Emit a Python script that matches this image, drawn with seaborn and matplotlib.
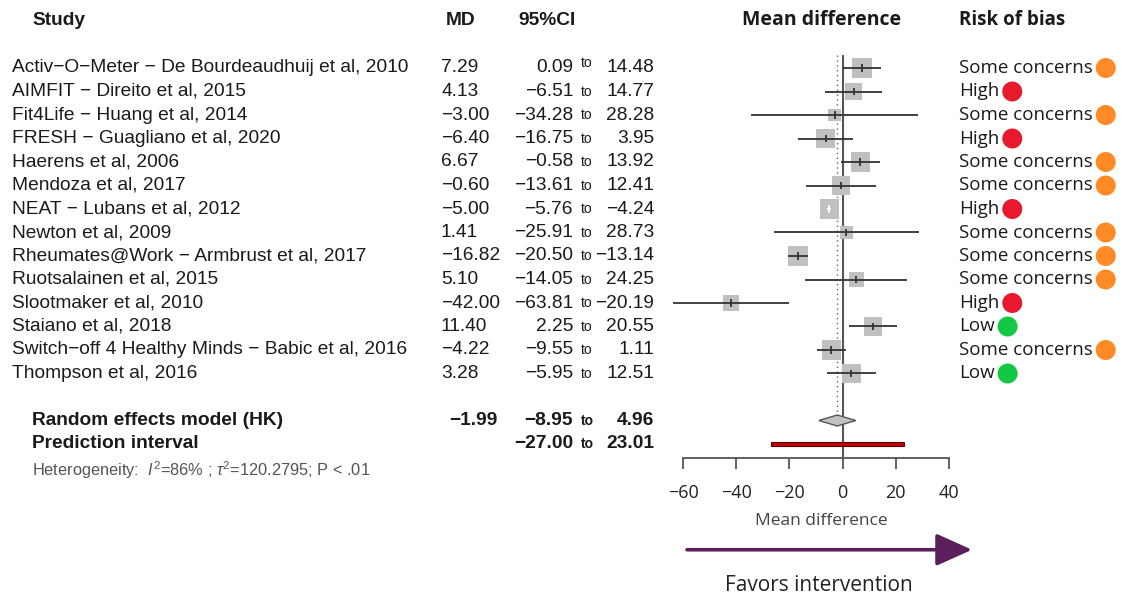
import numpy as np
import pandas as pd
import matplotlib
matplotlib.use("Agg")
import matplotlib.pyplot as plt
import matplotlib.transforms as mtransforms
import seaborn as sns

# ---------------- data ----------------
studies = [
    "Activ−O−Meter − De Bourdeaudhuij et al, 2010",
    "AIMFIT − Direito et al, 2015",
    "Fit4Life − Huang et al, 2014",
    "FRESH − Guagliano et al, 2020",
    "Haerens et al, 2006",
    "Mendoza et al, 2017",
    "NEAT − Lubans et al, 2012",
    "Newton et al, 2009",
    "Rheumates@Work − Armbrust et al, 2017",
    "Ruotsalainen et al, 2015",
    "Slootmaker et al, 2010",
    "Staiano et al, 2018",
    "Switch−off 4 Healthy Minds − Babic et al, 2016",
    "Thompson et al, 2016",
]
md = [7.29, 4.13, -3.00, -6.40, 6.67, -0.60, -5.00, 1.41, -16.82, 5.10, -42.00, 11.40, -4.22, 3.28]
ci_low = [0.09, -6.51, -34.28, -16.75, -0.58, -13.61, -5.76, -25.91, -20.50, -14.05, -63.81, 2.25, -9.55, -5.95]
ci_high = [14.48, 14.77, 28.28, 3.95, 13.92, 12.41, -4.24, 28.73, -13.14, 24.25, -20.19, 20.55, 1.11, 12.51]
weights = [8.4, 7.2, 3.5, 7.8, 8.4, 7.5, 8.4, 3.9, 9.6, 5.4, 5.4, 7.8, 8.9, 8.0]
risk = ["Some concerns", "High", "Some concerns", "High", "Some concerns", "Some concerns", "High",
        "Some concerns", "Some concerns", "Some concerns", "High", "Low", "Some concerns", "Low"]
re_md, re_low, re_high = -1.99, -8.95, 4.96
pi_low, pi_high = -27.00, 23.01
x_ticks = [-60, -40, -20, 0, 20, 40]
heterogeneity = r"Heterogeneity:  $I^2$=86% ; $\tau^2$=120.2795; P < .01"
risk_colors = {"Some concerns": "#ff8a26", "High": "#e8192c", "Low": "#12c844"}

# ---------------- style ----------------
sns.set_theme(style="white")
plt.rcParams["font.family"] = ["Liberation Sans", "DejaVu Sans"]
plt.rcParams["mathtext.fontset"] = "custom"
plt.rcParams["mathtext.rm"] = "Liberation Sans"
plt.rcParams["mathtext.it"] = "Liberation Sans:italic"
plt.rcParams["mathtext.bf"] = "Liberation Sans:bold"
OPEN = ["Open Sans", "DejaVu Sans"]

W, H = 1124, 600
fig = plt.figure(figsize=(W / 100, H / 100), dpi=100)
fig.patch.set_facecolor("white")
ax = fig.add_axes([0, 0, 1, 1])
ax.set_facecolor("none")
PX = 2.66          # pixels per MD unit
ROW = 23.5         # pixels per row
X0 = -60 - 683 / PX
ax.set_xlim(X0, X0 + W / PX)
ax.set_ylim((H - 68) / ROW, -68 / ROW)

def fx(px):
    return px / W

bt = mtransforms.blended_transform_factory(ax.transAxes, ax.transData)

n = len(studies)
rows = np.arange(n)
df = pd.DataFrame({"study": studies, "md": md, "lo": ci_low, "hi": ci_high,
                   "w": weights, "risk": risk, "row": rows})

# ---------------- forest ----------------
ax.vlines(0, -0.55, 16.6, color="#555555", lw=1.5, zorder=1)
ax.vlines(re_md, -0.55, 14.75, color="#666666", lw=1.0, linestyles=(0, (1, 2.5)), zorder=1)

wmax = max(weights)
sns.scatterplot(data=df, x="md", y="row", size="w", sizes=(0, 22.5 * wmax), size_norm=(0, wmax),
                marker="s", color="#c0c0c0", edgecolor="none", linewidth=0, legend=False,
                ax=ax, zorder=2)

side_px = 6.46 * np.sqrt(np.array(weights))
width_px = (np.array(ci_high) - np.array(ci_low)) * PX
line_cols = ["white" if wp < 0.9 * sp else "#333333" for wp, sp in zip(width_px, side_px)]
ax.hlines(rows, ci_low, ci_high, colors=line_cols, lw=1.3, zorder=3)
ax.scatter(md, rows, marker="|", s=30, c=line_cols, linewidths=1.3, zorder=4)

# summary diamond
dh = 5.5 / ROW
ax.fill([re_low, re_md, re_high, re_md], [15, 15 - dh, 15, 15 + dh],
        facecolor="#c2c2c2", edgecolor="#555555", lw=1.0, zorder=3)
# prediction interval
ax.barh(16, pi_high - pi_low, left=pi_low, height=4.5 / ROW, color="#c00000",
        edgecolor="#5a0000", lw=0.8, zorder=3)

# x axis
for s in ["top", "right", "left"]:
    ax.spines[s].set_visible(False)
ax.spines["bottom"].set_position(("data", 16.6))
ax.spines["bottom"].set_bounds(-60, 40)
ax.spines["bottom"].set_color("#555555")
ax.spines["bottom"].set_linewidth(1.3)
ax.set_xticks(x_ticks)
ax.set_yticks([])
ax.tick_params(axis="x", direction="out", length=8, width=1.3, color="#555555",
               labelsize=13, pad=11, labelcolor="#222222", bottom=True)
for lab in ax.get_xticklabels():
    lab.set_family(OPEN)
ax.text(-8, 19.28, "Mean difference", transform=ax.transData, ha="center", va="center",
        fontsize=12.5, color="#444444", family=OPEN)

# favours arrow
ax.annotate("", xy=(fx(972), 20.5), xytext=(fx(687), 20.5), xycoords=bt, textcoords=bt,
            arrowprops=dict(arrowstyle="-|>,head_length=1.0,head_width=0.45", lw=2.6,
                            color="#5b1f5c", mutation_scale=22, shrinkA=0, shrinkB=0))
ax.text(-9, 22.04, "Favors intervention", ha="center", va="center", fontsize=15,
        color="#222222", family=OPEN)

# ---------------- text columns ----------------
fs = 13.8
tc = "#1a1a1a"
hy = -2.04
XMD, XLO, XTO, XHI = 441, 573, 587, 654
ax.text(fx(32), hy, "Study", transform=bt, fontsize=fs, weight="bold", va="center", color=tc)
ax.text(fx(446), hy, "MD", transform=bt, fontsize=fs, weight="bold", va="center", color=tc)
ax.text(fx(518), hy, "95%CI", transform=bt, fontsize=fs, weight="bold", va="center", color=tc)
ax.text(-8, hy, "Mean difference", fontsize=14, weight="bold", ha="center", va="center",
        color=tc, family=OPEN)
ax.text(fx(959), hy, "Risk of bias", transform=bt, fontsize=13.5, weight="bold", va="center",
        color=tc, family=OPEN)

def fmt(v):
    return f"{v:.2f}".replace("-", "−")

for i in range(n):
    ax.text(fx(12), i, studies[i], transform=bt, fontsize=fs, va="center", color=tc)
    ax.text(fx(XMD), i, fmt(md[i]), transform=bt, fontsize=fs, va="center", color=tc)
    ax.text(fx(XLO), i, fmt(ci_low[i]), transform=bt, fontsize=fs, va="center", ha="right", color=tc)
    ax.text(fx(XTO), i + (-0.2 if i == 0 else 0.02), "to", transform=bt, fontsize=10,
            va="center", ha="center", color=tc)
    ax.text(fx(XHI), i, fmt(ci_high[i]), transform=bt, fontsize=fs, va="center", ha="right", color=tc)

ax.text(fx(32), 15, "Random effects model (HK)", transform=bt, fontsize=fs, weight="bold", va="center", color=tc)
ax.text(fx(498), 15, fmt(re_md), transform=bt, fontsize=fs, weight="bold", va="center", ha="right", color=tc)
ax.text(fx(XLO), 15, fmt(re_low), transform=bt, fontsize=fs, weight="bold", va="center", ha="right", color=tc)
ax.text(fx(XTO), 15.02, "to", transform=bt, fontsize=10, weight="bold", va="center", ha="center", color=tc)
ax.text(fx(XHI), 15, fmt(re_high), transform=bt, fontsize=fs, weight="bold", va="center", ha="right", color=tc)
ax.text(fx(32), 16, "Prediction interval", transform=bt, fontsize=fs, weight="bold", va="center", color=tc)
ax.text(fx(XLO), 16, fmt(pi_low), transform=bt, fontsize=fs, weight="bold", va="center", ha="right", color=tc)
ax.text(fx(XTO), 16.02, "to", transform=bt, fontsize=10, weight="bold", va="center", ha="center", color=tc)
ax.text(fx(XHI), 16, fmt(pi_high), transform=bt, fontsize=fs, weight="bold", va="center", ha="right", color=tc)
ax.text(fx(32), 17.1, heterogeneity, transform=bt, fontsize=11.8, va="center", color="#555555")

# risk of bias column
rtexts = [ax.text(fx(959), i, risk[i], transform=bt, fontsize=13.5, va="center", color=tc, family=OPEN)
          for i in range(n)]
fig.canvas.draw()
renderer = fig.canvas.get_renderer()
inv = ax.transData.inverted()
cx = []
for t in rtexts:
    bb = t.get_window_extent(renderer)
    cx.append(inv.transform((bb.x1 + 3 + 10, 0))[0])
df["cx"] = cx
sns.scatterplot(data=df, x="cx", y="row", hue="risk", palette=risk_colors, s=207,
                edgecolor="none", linewidth=0, legend=False, ax=ax, zorder=3)
ax.set_xlabel("")
ax.set_ylabel("")
ax.set_xlim(X0, X0 + W / PX)
ax.set_ylim((H - 68) / ROW, -68 / ROW)

fig.savefig("out.png", dpi=100, facecolor="white")
